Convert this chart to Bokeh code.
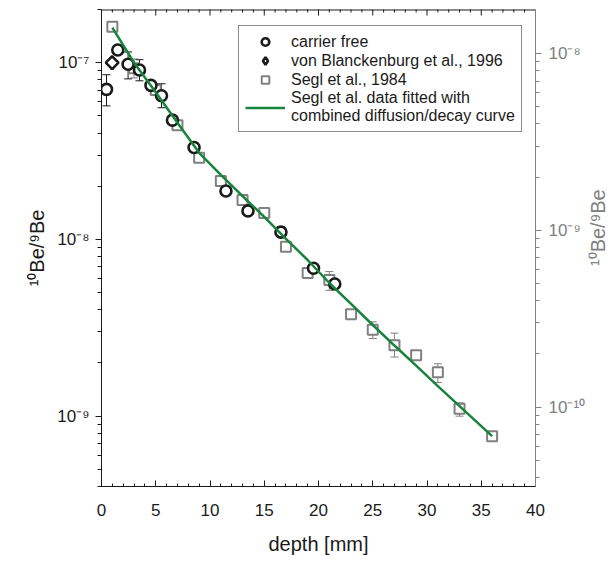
import math
from bokeh.plotting import figure
from bokeh.layouts import row
from bokeh.models import (ColumnDataSource, Range1d, LogAxis, LinearAxis, Whisker, TeeHead,
                          Legend, LegendItem, SingleIntervalTicker, LogTicker, CustomJSTickFormatter)
from bokeh.embed import file_html
from bokeh.resources import INLINE

# ---- data ----
carrier_depth = [0.46, 1.5, 2.45, 3.5, 4.56, 5.53, 6.54, 8.53, 11.47, 13.5, 16.54, 19.54, 21.5]
carrier_ratio = [7.06e-8, 1.18e-7, 9.8e-8, 9.1e-8, 7.44e-8, 6.5e-8, 4.73e-8, 3.31e-8,
                 1.88e-8, 1.45e-8, 1.1e-8, 6.87e-9, 5.6e-9]
carrier_err_depth = [0.46, 2.45, 3.5, 5.53, 16.54]
carrier_err_hi = [8.55e-8, 1.15e-7, 1.04e-7, 7.6e-8, 1.18e-8]
carrier_err_lo = [5.7e-8, 8.1e-8, 7.9e-8, 5.56e-8, 1.03e-8]

vb_depth = [0.98]
vb_ratio = [1.0e-7]

segl_depth = [1, 3, 5, 7, 9, 11, 13, 15, 17, 19, 21, 23, 25, 27, 29, 31, 33, 36]
segl_ratio = [1.6e-7, 9.3e-8, 7.0e-8, 4.43e-8, 2.9e-8, 2.14e-8, 1.67e-8, 1.41e-8, 9.1e-9,
              6.45e-9, 5.9e-9, 3.77e-9, 3.08e-9, 2.52e-9, 2.21e-9, 1.77e-9, 1.1e-9, 7.7e-10]
segl_err_depth = [3, 21, 25, 27, 31, 33]
segl_err_hi = [1.05e-7, 6.58e-9, 3.42e-9, 2.95e-9, 1.98e-9, 1.19e-9]
segl_err_lo = [8.2e-8, 5.15e-9, 2.75e-9, 2.16e-9, 1.55e-9, 1.0e-9]

fit_depth = [1, 3, 5, 7, 9, 11, 13, 15, 17, 19, 21, 23, 25, 27, 29, 31, 33, 36]
fit_ratio = [1.58e-7, 1.0e-7, 6.8e-8, 4.57e-8, 3.09e-8, 2.32e-8, 1.76e-8, 1.34e-8, 1.007e-8,
             7.65e-9, 5.67e-9, 4.32e-9, 3.28e-9, 2.51e-9, 1.93e-9, 1.48e-9, 1.14e-9, 7.71e-10]

x_range = (0, 40)
x_major_step = 5
x_minor_step = 1
y_range = (4e-10, 2e-7)
right_scale = 11.25  # ratio between left and right axis scales

y_title = "\u00b9\u2070Be/\u2079Be"
x_title = "depth [mm]"
legend_labels = ["carrier free", "von Blanckenburg et al., 1996", "Segl et al., 1984",
                 "Segl et al. data fitted with\ncombined diffusion/decay curve"]

# ---- layout / style ----
FONT = "Liberation Sans"
DARK = "#1a1a1a"
GRAY = "#808080"
GREEN = "#16843c"
H = 563
W_MAIN = 588
W_SIDE = 611 - W_MAIN
B_LEFT, B_TOP, B_BOTTOM = 101, 9, 77
B_RIGHT = W_MAIN - 537

p = figure(width=W_MAIN, height=H, output_backend="svg", toolbar_location=None,
           x_range=Range1d(*x_range), y_range=Range1d(*y_range), y_axis_type="log",
           x_axis_location=None, y_axis_location=None,
           min_border_left=B_LEFT, min_border_right=B_RIGHT, min_border_top=B_TOP,
           min_border_bottom=B_BOTTOM)
p.outline_line_color = None
p.xgrid.visible = False
p.ygrid.visible = False
p.extra_y_ranges = {"right": Range1d(y_range[0] / right_scale, y_range[1] / right_scale)}

sup_js = """
const s = {'-':'\u207b','0':'\u2070','1':'\u00b9','2':'\u00b2','3':'\u00b3','4':'\u2074',
           '5':'\u2075','6':'\u2076','7':'\u2077','8':'\u2078','9':'\u2079'};
const e = Math.round(Math.log10(tick));
return '10' + String(e).split('').map(c => s[c]).join('');
"""

def style_axis(ax, color):
    ax.axis_line_color = color
    ax.major_tick_line_color = color
    ax.minor_tick_line_color = color
    ax.major_label_text_color = color
    ax.axis_label_text_color = color
    ax.major_label_text_font = FONT
    ax.axis_label_text_font = FONT
    ax.major_label_text_font_size = "17px"
    ax.axis_label_text_font_size = "20px"
    ax.axis_label_text_font_style = "normal"

# left axis
la = LogAxis(ticker=LogTicker(num_minor_ticks=10), formatter=CustomJSTickFormatter(code=sup_js),
             axis_label=y_title)
style_axis(la, DARK)
la.major_tick_out = 6
la.major_tick_in = 0
la.minor_tick_out = 4
la.minor_tick_in = 0
la.major_label_standoff = 6
la.axis_label_standoff = 6
p.add_layout(la, "left")

# right axis (its title is drawn in the narrow side figure so that it reads upward)
ra = LogAxis(y_range_name="right", ticker=LogTicker(num_minor_ticks=10),
             formatter=CustomJSTickFormatter(code=sup_js))
style_axis(ra, GRAY)
ra.major_tick_out = 6
ra.major_tick_in = 0
ra.minor_tick_out = 4
ra.minor_tick_in = 0
ra.major_label_standoff = 7
p.add_layout(ra, "right")

# bottom axis
ba = LinearAxis(ticker=SingleIntervalTicker(interval=x_major_step, num_minor_ticks=5),
                axis_label=x_title)
style_axis(ba, DARK)
ba.major_tick_in = 6
ba.major_tick_out = 0
ba.minor_tick_in = 3
ba.minor_tick_out = 0
ba.major_label_standoff = 17
ba.axis_label_standoff = 14
p.add_layout(ba, "below")

# top edge: line plus inward ticks (no labels)
top_major = list(range(x_range[0], x_range[1] + 1, x_major_step))
top_minor = [v for v in range(x_range[0], x_range[1] + 1, x_minor_step) if v not in top_major]
p.line([x_range[0], x_range[1]], [y_range[1], y_range[1]], line_color=DARK, line_width=2)
p.scatter(top_major, [y_range[1]] * len(top_major), marker="dash", angle=math.pi / 2,
          size=12, line_color=DARK, line_width=1)
p.scatter(top_minor, [y_range[1]] * len(top_minor), marker="dash", angle=math.pi / 2,
          size=6, line_color=DARK, line_width=1)

# error bars
cerr = ColumnDataSource(dict(x=carrier_err_depth, hi=carrier_err_hi, lo=carrier_err_lo))
serr = ColumnDataSource(dict(x=segl_err_depth, hi=segl_err_hi, lo=segl_err_lo))
for src, col in ((serr, GRAY), (cerr, DARK)):
    w = Whisker(source=src, base="x", upper="hi", lower="lo", dimension="height",
                line_color=col, line_width=1,
                upper_head=TeeHead(size=8, line_color=col, line_width=1),
                lower_head=TeeHead(size=8, line_color=col, line_width=1))
    p.add_layout(w)

r_segl = p.scatter(segl_depth, segl_ratio, marker="square", size=10, line_color=GRAY,
                   line_width=2, fill_color="white")
r_car = p.scatter(carrier_depth, carrier_ratio, marker="circle", size=11, line_color=DARK,
                  line_width=2.6, fill_color="white")
# diamond key for the legend (legend glyphs ignore marker rotation); hidden under the point
r_vb_key = p.scatter(vb_depth, vb_ratio, marker="diamond", size=13, line_color=DARK,
                     line_width=2.6, fill_color="white")
r_vb = p.scatter(vb_depth, vb_ratio, marker="square", angle=math.pi / 4, size=9,
                 line_color=DARK, line_width=2.6, fill_color="white")
r_fit = p.line(fit_depth, fit_ratio, line_color=GREEN, line_width=2.5)

legend = Legend(items=[LegendItem(label=legend_labels[0], renderers=[r_car]),
                       LegendItem(label=legend_labels[1], renderers=[r_vb_key]),
                       LegendItem(label=legend_labels[2], renderers=[r_segl]),
                       LegendItem(label=legend_labels[3], renderers=[r_fit])],
                location=(137, 354))
legend.label_text_font = FONT
legend.label_text_font_size = "16px"
legend.label_text_color = DARK
legend.label_text_line_height = 1.15
legend.label_height = 19
legend.glyph_height = 19
legend.glyph_width = 40
legend.label_standoff = 6
legend.padding = 6
legend.spacing = 0
legend.margin = 0
legend.border_line_color = DARK
legend.border_line_width = 1
legend.background_fill_color = "white"
legend.background_fill_alpha = 1
p.add_layout(legend)

# narrow side figure holding the right-hand axis title (pixel coordinates)
side = figure(width=W_SIDE, height=H, output_backend="svg", toolbar_location=None,
              x_range=Range1d(0, W_SIDE), y_range=Range1d(0, H),
              min_border=0, x_axis_location=None, y_axis_location=None)
side.outline_line_color = None
side.xgrid.visible = False
side.ygrid.visible = False
frame_center_from_top = B_TOP + (H - B_TOP - B_BOTTOM) / 2
side.text(x=[W_SIDE / 2 - 2], y=[H - frame_center_from_top - 10], text=[y_title],
          angle=math.pi / 2, text_align="center", text_baseline="middle",
          text_font={"value": FONT}, text_font_size="20px", text_color=GRAY)

layout = row(p, side, spacing=0)
open("out.html", "w").write(file_html(layout, INLINE))
